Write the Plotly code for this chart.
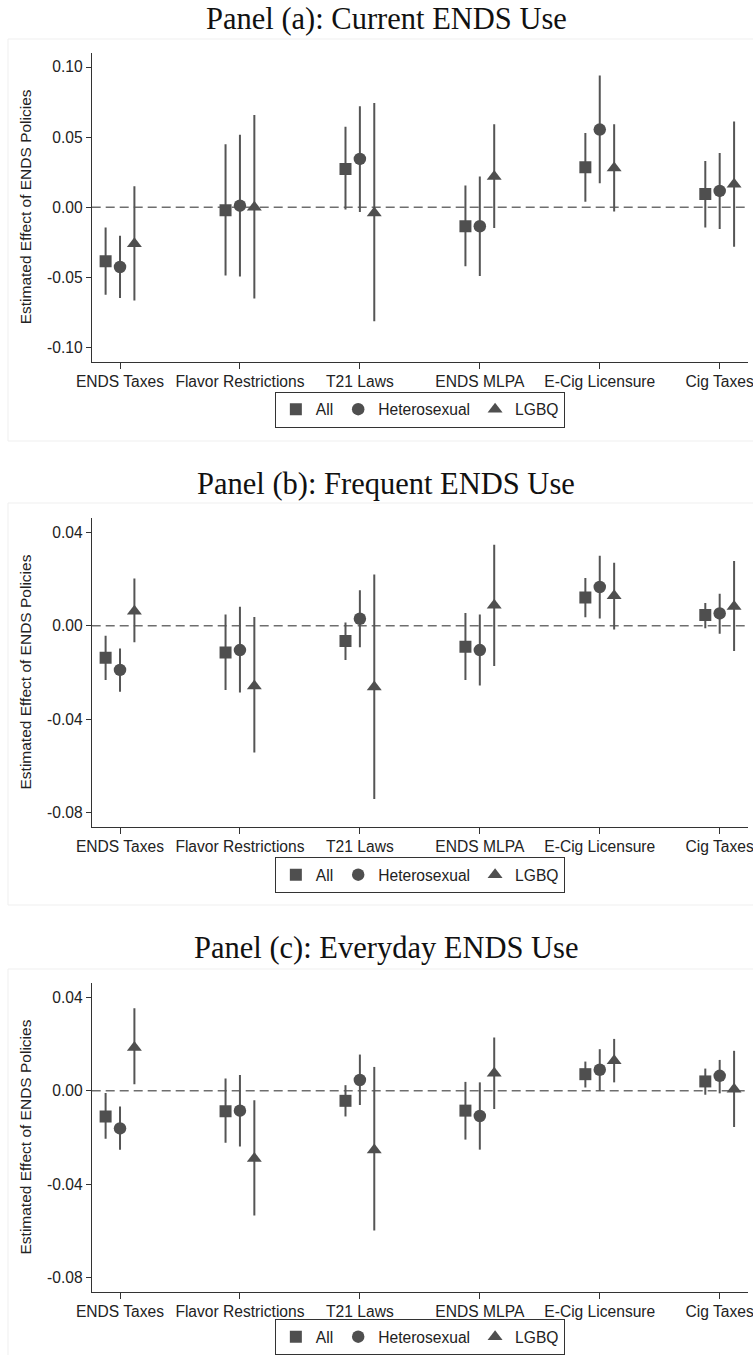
import plotly.graph_objects as go

W, H = 753, 1355

categories = ["ENDS Taxes", "Flavor Restrictions", "T21 Laws", "ENDS MLPA", "E-Cig Licensure", "Cig Taxes"]
series_names = ["All", "Heterosexual", "LGBQ"]

panel_titles = ["Panel (a): Current ENDS Use", "Panel (b): Frequent ENDS Use", "Panel (c): Everyday ENDS Use"]

# Panel (a): Current ENDS Use
a_all_est = [-0.0385, -0.0020, 0.0274, -0.0135, 0.0285, 0.0095]
a_all_lo = [-0.0622, -0.0485, -0.0016, -0.0420, 0.0040, -0.0143]
a_all_hi = [-0.0143, 0.0450, 0.0575, 0.0155, 0.0530, 0.0330]
a_het_est = [-0.0425, 0.0012, 0.0345, -0.0135, 0.0554, 0.0117]
a_het_lo = [-0.0646, -0.0492, -0.0033, -0.0489, 0.0171, -0.0154]
a_het_hi = [-0.0202, 0.0518, 0.0720, 0.0219, 0.0939, 0.0388]
a_lgbq_est = [-0.0260, 0.0000, -0.0040, 0.0220, 0.0280, 0.0165]
a_lgbq_lo = [-0.0663, -0.0650, -0.0812, -0.0147, -0.0030, -0.0280]
a_lgbq_hi = [0.0150, 0.0659, 0.0744, 0.0592, 0.0592, 0.0611]

# Panel (b): Frequent ENDS Use
b_all_est = [-0.0137, -0.0114, -0.0065, -0.0090, 0.0121, 0.0046]
b_all_lo = [-0.0232, -0.0275, -0.0147, -0.0232, 0.0036, -0.0011]
b_all_hi = [-0.0043, 0.0048, 0.0014, 0.0055, 0.0205, 0.0098]
b_het_est = [-0.0189, -0.0104, 0.0030, -0.0104, 0.0166, 0.0053]
b_het_lo = [-0.0282, -0.0286, -0.0092, -0.0256, 0.0031, -0.0034]
b_het_hi = [-0.0097, 0.0081, 0.0152, 0.0048, 0.0300, 0.0137]
b_lgbq_est = [0.0062, -0.0258, -0.0262, 0.0088, 0.0129, 0.0083]
b_lgbq_lo = [-0.0071, -0.0542, -0.0741, -0.0172, -0.0016, -0.0108]
b_lgbq_hi = [0.0202, 0.0038, 0.0219, 0.0347, 0.0270, 0.0277]

# Panel (c): Everyday ENDS Use
c_all_est = [-0.0110, -0.0088, -0.0043, -0.0085, 0.0071, 0.0040]
c_all_lo = [-0.0205, -0.0223, -0.0110, -0.0209, 0.0014, -0.0017]
c_all_hi = [-0.0010, 0.0053, 0.0024, 0.0038, 0.0125, 0.0095]
c_het_est = [-0.0161, -0.0085, 0.0046, -0.0108, 0.0090, 0.0064]
c_het_lo = [-0.0252, -0.0238, -0.0061, -0.0252, 0.0000, -0.0011]
c_het_hi = [-0.0067, 0.0068, 0.0155, 0.0036, 0.0178, 0.0132]
c_lgbq_est = [0.0185, -0.0290, -0.0253, 0.0075, 0.0128, 0.0007]
c_lgbq_lo = [0.0028, -0.0534, -0.0598, -0.0078, 0.0036, -0.0155]
c_lgbq_hi = [0.0353, -0.0041, 0.0102, 0.0228, 0.0222, 0.0171]

panels = [
    [(a_all_est, a_all_lo, a_all_hi), (a_het_est, a_het_lo, a_het_hi), (a_lgbq_est, a_lgbq_lo, a_lgbq_hi)],
    [(b_all_est, b_all_lo, b_all_hi), (b_het_est, b_het_lo, b_het_hi), (b_lgbq_est, b_lgbq_lo, b_lgbq_hi)],
    [(c_all_est, c_all_lo, c_all_hi), (c_het_est, c_het_lo, c_het_hi), (c_lgbq_est, c_lgbq_lo, c_lgbq_hi)],
]

y_ranges = [[-0.11, 0.11], [-0.086, 0.046], [-0.086, 0.046]]
y_tick_vals = [[-0.10, -0.05, 0.0, 0.05, 0.10], [-0.08, -0.04, 0.0, 0.04], [-0.08, -0.04, 0.0, 0.04]]
y_tick_text = [["-0.10", "-0.05", "0.00", "0.05", "0.10"], ["-0.08", "-0.04", "0.00", "0.04"],
               ["-0.08", "-0.04", "0.00", "0.04"]]

# pixel layout
plot_x0, plot_x1 = 91.7, 748
plot_tops = [53, 518.3, 983.3]
plot_bots = [361.7, 826.7, 1291.7]
title_y = [19, 484, 948]
legend_top = [391.5, 857, 1319]
border_tops = [39, 503, 969]

symbols = ["square", "circle", "triangle-up"]
sizes = [12, 12.5, 13]
offsets = [-0.12, 0.0, 0.12]
mcolor = "#4f4f4f"
lcolor = "#555555"
axcolor = "#333333"
font_sans = "Liberation Sans, Arial, sans-serif"

fig = go.Figure()
layout = {}
shapes = []
annotations = []

for p in range(3):
    k = "" if p == 0 else str(p + 1)
    xa, ya = "x" + k, "y" + k
    lg = "legend" + k
    for s in range(3):
        est, lo, hi = panels[p][s]
        xs = [i + 1 + offsets[s] for i in range(len(categories))]
        fig.add_trace(go.Scatter(
            x=xs, y=est, mode="markers", name=series_names[s],
            marker=dict(symbol=symbols[s], size=sizes[s], color=mcolor, line=dict(width=0)),
            error_y=dict(type="data", symmetric=False,
                         array=[h - e for h, e in zip(hi, est)],
                         arrayminus=[e - l for e, l in zip(est, lo)],
                         thickness=2, width=0, color=lcolor),
            xaxis=xa, yaxis=ya, legend=lg, showlegend=True,
        ))
    dom_y = [1 - plot_bots[p] / H, 1 - plot_tops[p] / H]
    layout["xaxis" + k] = dict(
        domain=[plot_x0 / W, plot_x1 / W], anchor=ya, range=[0.764, 6.236], automargin=False,
        tickvals=list(range(1, 7)), ticktext=categories, showgrid=False, zeroline=False,
        showline=True, linecolor=axcolor, linewidth=1, ticks="outside", ticklen=6,
        ticklabeloverflow="allow",
        tickcolor=axcolor, tickfont=dict(family=font_sans, size=15.6, color="#222"),
    )
    layout["yaxis" + k] = dict(
        domain=dom_y, anchor=xa, range=y_ranges[p], tickvals=y_tick_vals[p], ticktext=y_tick_text[p],
        automargin=False, ticklabeloverflow="allow",
        showgrid=False, zeroline=False, showline=True, linecolor=axcolor, linewidth=1,
        ticks="outside", ticklen=5, tickcolor=axcolor,
        tickfont=dict(family=font_sans, size=15.6, color="#222"),
    )
    layout[lg] = dict(
        orientation="h", x=(plot_x0 + plot_x1) / 2 / W, xanchor="center",
        y=1 - legend_top[p] / H, yanchor="top", yref="paper",
        bordercolor=axcolor, borderwidth=1, bgcolor="white",
        font=dict(family=font_sans, size=15.6, color="#222"), itemwidth=30,
    )
    shapes.append(dict(type="line", xref=xa + " domain", yref=ya, x0=0, x1=1, y0=0, y1=0,
                       line=dict(color="#6e6e6e", width=1.5, dash="9px,5px"), layer="below"))
    shapes.append(dict(type="rect", xref="paper", yref="paper", x0=8 / W, x1=1.01,
                       y0=1 - (border_tops[p] + 402) / H, y1=1 - border_tops[p] / H,
                       line=dict(color="#efefef", width=1), layer="below"))
    annotations.append(dict(text=panel_titles[p], xref="paper", yref="paper", x=386 / W,
                            y=1 - title_y[p] / H, xanchor="center", yanchor="middle", showarrow=False,
                            font=dict(family="Liberation Serif, Times New Roman, serif", size=30.5, color="#111")))
    annotations.append(dict(text="Estimated Effect of ENDS Policies", xref="paper", yref="paper",
                            x=25 / W, y=1 - (plot_tops[p] + plot_bots[p]) / 2 / H, textangle=-90,
                            xanchor="center", yanchor="middle", showarrow=False,
                            font=dict(family=font_sans, size=15.5, color="#222")))

fig.update_layout(
    width=W, height=H, margin=dict(l=0, r=0, t=0, b=0, autoexpand=False),
    paper_bgcolor="white", plot_bgcolor="white",
    shapes=shapes, annotations=annotations, **layout,
)

fig.write_html("out.html")
